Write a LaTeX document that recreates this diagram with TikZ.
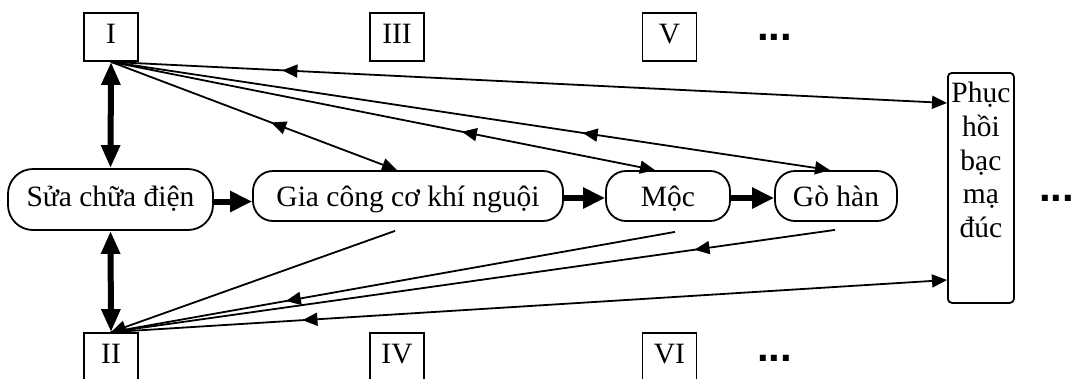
\documentclass[tikz,border=0pt]{standalone}
\usepackage{fontspec}
\setmainfont{Liberation Serif}
\newfontfamily\dotfont{Liberation Sans}
\usetikzlibrary{arrows.meta,decorations.markings,calc}
\begin{document}
\begin{tikzpicture}[x=1pt,y=-1pt,
  txt/.style={font=\fontsize{29.5}{34}\selectfont},
  lbl/.style={txt, draw, line width=1.8pt, minimum width=54pt, minimum height=48pt, inner sep=0pt,
              text height=20pt, text depth=7pt},
  proc/.style={txt, draw, line width=1.8pt, rounded corners=20pt, minimum height=50pt, inner sep=0pt,
               text height=24pt, text depth=4pt},
  dotsx/.style={font=\dotfont\bfseries\fontsize{42}{42}\selectfont, inner sep=0pt},
  bigarr/.style={line width=6pt, -{Triangle[length=22pt,width=20pt]}},
  bigdbl/.style={line width=6pt, {Triangle[length=23pt,width=18pt]}-{Triangle[length=23pt,width=18pt]}},
  thin/.style={line width=1.8pt},
  endarr/.style={-{Triangle[length=15pt,width=13pt]}},
  backmark/.style={postaction={decorate}, decoration={markings,
     mark=at position #1 with {\arrowreversed{Triangle[length=15pt,width=13pt]}}}},
  fwdmark/.style={postaction={decorate}, decoration={markings,
     mark=at position #1 with {\arrow{Triangle[length=15pt,width=13pt]}}}}
]
\useasboundingbox (0,0) rectangle (1074,378);
\clip (0,0) rectangle (1074,378);

% top and bottom label boxes
\node[lbl] (b1) at (111,37) {I};
\node[lbl] (b3) at (397,37) {III};
\node[lbl] (b5) at (669.5,37) {V};
\node[dotsx, anchor=base west] (d1) at (757,40) {...};
\node[lbl] (b2) at (111,357) {II};
\node[lbl] (b4) at (397,357) {IV};
\node[lbl] (b6) at (669.5,357) {VI};
\node[dotsx, anchor=base west] (d2) at (757,361) {...};

% process row
\node[proc, rounded corners=25pt, minimum width=205pt, minimum height=61pt,
      text height=22pt, text depth=8pt] (sua) at (110.5,199.5) {Sửa chữa điện};
\node[proc, minimum width=310pt] (gia) at (408,196) {Gia công cơ khí nguội};
\node[proc, minimum width=124pt] (moc) at (668,196) {Mộc};
\node[proc, minimum width=122pt] (go) at (836,196) {Gò hàn};

% restoration box
\node[draw, line width=1.8pt, rounded corners=4pt, minimum width=66pt, minimum height=230pt,
      anchor=north west, inner sep=0pt] (phuc) at (947,72) {};
\node[anchor=north, align=center, inner sep=0pt, font=\fontsize{29.5}{33.7}\selectfont] (phuctxt)
      at ([yshift=-10pt]phuc.north) {Phục\\hồi\\bạc\\mạ\\đúc};
\node[dotsx, anchor=base west] (d3) at (1039,201) {...};

% thick arrows
\draw[bigdbl] (b1.south) -- (sua.north);
\draw[bigdbl] (sua.south) -- (b2.north);
\draw[bigarr] ([yshift=-2pt]sua.east) -- ([yshift=-2pt]gia.west |- sua.east);
\draw[bigarr] ([yshift=-2pt]gia.east) -- ([yshift=-2pt]moc.west);
\draw[bigarr] ([yshift=-2pt]moc.east) -- ([yshift=-2pt]go.west);

% free ends
\coordinate (pT) at ([yshift=-31pt]phuc.north west);
\coordinate (pB) at ([yshift=-208pt]phuc.north west);
\coordinate (giaT) at ([xshift=-11pt]gia.north);
\coordinate (mocT) at ([xshift=-13pt]moc.north);
\coordinate (goT) at ([xshift=-6pt]go.north);
\coordinate (giaB) at ([xshift=-13pt,yshift=-9pt]gia.south);
\coordinate (mocB) at ([xshift=7pt,yshift=-10pt]moc.south);
\coordinate (goB) at ([xshift=-1pt,yshift=-8pt]go.south);

% thin connectors from I
\draw[thin, endarr, backmark=0.205] (b1.south) -- (pT);
\draw[thin, endarr, backmark=0.56] (b1.south) -- (giaT);
\draw[thin, endarr, backmark=0.645] (b1.south) -- (mocT);
\draw[thin, endarr, backmark=0.656] (b1.south) -- (goT);

% thin connectors to II
\draw[thin, endarr] (giaB) -- (b2.north);
\draw[thin, fwdmark=0.69] (mocB) -- (b2.north);
\draw[thin, fwdmark=0.194] (goB) -- (b2.north);
\draw[thin, endarr, backmark=0.229] (b2.north) -- (pB);
\end{tikzpicture}
\end{document}
